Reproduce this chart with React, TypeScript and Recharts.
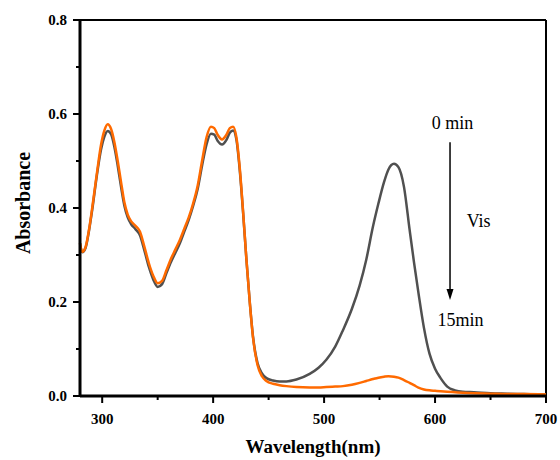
import React from 'react'
import { Label, Line, LineChart, ReferenceDot, ReferenceLine, XAxis, YAxis } from 'recharts'

const wavelengths = [
    280, 282, 285, 288, 291, 295, 299, 302, 305, 308, 311, 314, 317, 320, 323, 326, 330, 334, 338, 342,
    346, 350, 354, 358, 362, 366, 370, 374, 378, 382, 386, 390, 394, 398, 401, 404, 408, 412, 415, 418,
    421, 424, 427, 430, 433, 436, 440, 444, 448, 454, 460, 466, 475, 487, 495, 502, 510, 517, 525, 532,
    538, 544, 549, 554, 558, 563, 567, 572, 577, 581, 585, 590, 595, 600, 605, 611, 618, 625, 635, 650,
    665, 680, 700,
]

// 0 min
const absStart = [
    0.325, 0.306, 0.315, 0.35, 0.396, 0.466, 0.525, 0.552, 0.564, 0.557, 0.53, 0.49, 0.445, 0.405, 0.38, 0.366, 0.355, 0.342, 0.31, 0.275,
    0.248, 0.232, 0.238, 0.262, 0.285, 0.305, 0.325, 0.35, 0.375, 0.405, 0.44, 0.49, 0.535, 0.558, 0.556, 0.543, 0.535, 0.545, 0.56, 0.565,
    0.545, 0.48, 0.39, 0.29, 0.2, 0.125, 0.07, 0.048, 0.038, 0.033, 0.031, 0.031, 0.035, 0.047, 0.06, 0.077, 0.105, 0.14, 0.185, 0.235,
    0.29, 0.36, 0.41, 0.455, 0.482, 0.494, 0.487, 0.445, 0.355, 0.285, 0.22, 0.145, 0.09, 0.058, 0.038, 0.02, 0.012, 0.009, 0.008, 0.006,
    0.005, 0.004, 0.003,
]

// 15 min
const absEnd = [
    0.325, 0.307, 0.317, 0.352, 0.4, 0.47, 0.535, 0.565, 0.578, 0.568, 0.54, 0.5, 0.455, 0.412, 0.386, 0.372, 0.362, 0.35, 0.318, 0.283,
    0.256, 0.24, 0.245, 0.268, 0.292, 0.312, 0.332, 0.356, 0.38, 0.41, 0.447, 0.5, 0.55, 0.573, 0.57, 0.556, 0.546, 0.556, 0.57, 0.573,
    0.55, 0.485, 0.392, 0.29, 0.2, 0.123, 0.066, 0.042, 0.032, 0.026, 0.023, 0.021, 0.019, 0.018, 0.018, 0.019, 0.02, 0.021, 0.024, 0.028,
    0.032, 0.036, 0.039, 0.041, 0.042, 0.041, 0.039, 0.034, 0.028, 0.023, 0.018, 0.014, 0.012, 0.011, 0.01, 0.009, 0.008, 0.007, 0.006, 0.005,
    0.004, 0.004, 0.003,
]

const xTicks = [300, 350, 400, 450, 500, 550, 600, 650, 700]
const yTicks = [0, 0.1, 0.2, 0.3, 0.4, 0.5, 0.6, 0.7, 0.8]

// annotation anchors, in data units
const arrowFrom = { x: 613.5, y: 0.54 }
const arrowTo = { x: 613.5, y: 0.204 }
const notes = [
    { text: '0 min', x: 615.7, y: 0.581 },
    { text: 'Vis', x: 639.3, y: 0.374 },
    { text: '15min', x: 623, y: 0.162 },
]

const data = wavelengths.map((w, i) => ({ w, start: absStart[i], end: absEnd[i] }))

const FONT = '"Liberation Serif", "Times New Roman", serif'

const XTick = ({ x, y, payload }: any) => {
    const major = payload.value % 100 === 0
    return (
        <g>
            <line x1={x} x2={x} y1={y} y2={y + (major ? 7 : 4)} stroke="#000" strokeWidth={2} />
            {major && (
                <text x={x} y={y + 28} textAnchor="middle" fontFamily={FONT} fontWeight="bold" fontSize={15} fill="#000">
                    {payload.value}
                </text>
            )}
        </g>
    )
}

const YTick = ({ x, y, payload }: any) => {
    const major = Math.round(payload.value * 10) % 2 === 0
    return (
        <g>
            <line x1={x - (major ? 7 : 4)} x2={x} y1={y} y2={y} stroke="#000" strokeWidth={2} />
            {major && (
                <text x={x - 13} y={y} dy="0.35em" textAnchor="end" fontFamily={FONT} fontWeight="bold" fontSize={15} fill="#000">
                    {payload.value.toFixed(1)}
                </text>
            )}
        </g>
    )
}

const Arrow = (p: any) => (
    <g>
        <line x1={p.x1} y1={p.y1} x2={p.x2} y2={p.y2 - 8} stroke="#000" strokeWidth={1.5} />
        <polygon points={`${p.x2},${p.y2} ${p.x2 - 3.5},${p.y2 - 11} ${p.x2 + 3.5},${p.y2 - 11}`} fill="#000" />
    </g>
)

export default function App() {
    return (
        <div style={{ position: 'absolute', left: 0, top: 0, width: 560, height: 460, background: '#fff' }}>
            <LineChart width={560} height={460} data={data} margin={{ top: 20, right: 14, bottom: 0, left: 0 }}>
                <XAxis
                    dataKey="w"
                    type="number"
                    domain={[280, 700]}
                    ticks={xTicks}
                    tick={<XTick />}
                    tickLine={false}
                    tickSize={0}
                    tickMargin={0}
                    height={64}
                    axisLine={{ stroke: '#000', strokeWidth: 3 }}
                    interval={0}
                >
                    <Label
                        content={({ viewBox }: any) => (
                            <text
                                x={viewBox.x + viewBox.width / 2}
                                y={viewBox.y + 57}
                                textAnchor="middle"
                                fontFamily={FONT}
                                fontWeight="bold"
                                fontSize={19}
                                fill="#000"
                            >
                                Wavelength(nm)
                            </text>
                        )}
                    />
                </XAxis>
                <YAxis
                    type="number"
                    domain={[0, 0.8]}
                    ticks={yTicks}
                    tick={<YTick />}
                    tickLine={false}
                    tickSize={0}
                    tickMargin={0}
                    width={80}
                    axisLine={{ stroke: '#000', strokeWidth: 3 }}
                    interval={0}
                >
                    <Label
                        content={({ viewBox }: any) => {
                            const cx = viewBox.x + 23
                            const cy = viewBox.y + viewBox.height / 2 - 5
                            return (
                                <text
                                    x={cx}
                                    y={cy}
                                    dy="0.35em"
                                    transform={`rotate(-90 ${cx} ${cy})`}
                                    textAnchor="middle"
                                    fontFamily={FONT}
                                    fontWeight="bold"
                                    fontSize={20}
                                    fill="#000"
                                >
                                    Absorbance
                                </text>
                            )
                        }}
                    />
                </YAxis>
                <ReferenceLine y={0.8} stroke="#000" strokeWidth={2} />
                <ReferenceLine x={700} stroke="#000" strokeWidth={2} />
                <Line
                    type="monotone"
                    dataKey="start"
                    stroke="#505050"
                    strokeWidth={2.5}
                    dot={false}
                    isAnimationActive={false}
                />
                <Line
                    type="monotone"
                    dataKey="end"
                    stroke="#ff6a00"
                    strokeWidth={2.5}
                    dot={false}
                    isAnimationActive={false}
                />
                <ReferenceLine segment={[arrowFrom, arrowTo]} shape={<Arrow />} />
                {notes.map(n => (
                    <ReferenceDot
                        key={n.text}
                        x={n.x}
                        y={n.y}
                        r={0}
                        shape={(p: any) => (
                            <text x={p.cx} y={p.cy} dy="0.35em" textAnchor="middle" fontFamily={FONT} fontSize={18} fill="#000">
                                {n.text}
                            </text>
                        )}
                    />
                ))}
            </LineChart>
        </div>
    )
}
